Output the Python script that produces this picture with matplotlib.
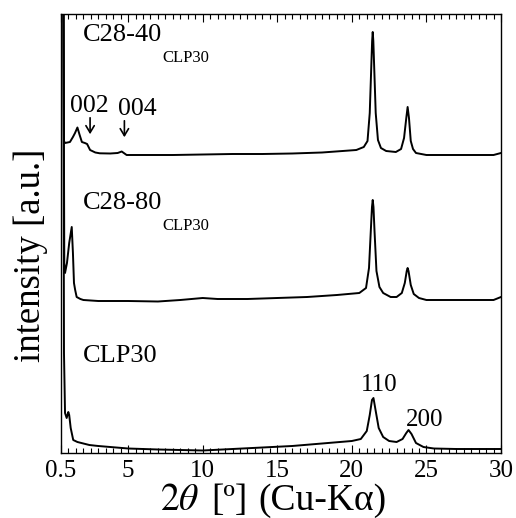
import numpy as np
import matplotlib
matplotlib.use('Agg')
import matplotlib.pyplot as plt

plt.rcParams['font.family'] = ['Liberation Serif', 'DejaVu Serif']
plt.rcParams['mathtext.fontset'] = 'stix'

# XRD data (2theta in degrees, intensity in arbitrary units, already stacked)
tt_c2840 = [0.62, 0.70, 0.77, 1.1, 1.3, 1.44, 1.6, 1.75, 1.9, 2.1, 2.25, 2.45, 2.8, 3.1, 3.8, 4.3,
            4.57, 4.9, 6, 8, 10, 12, 14, 16, 18, 20.3, 20.8, 21.05, 21.2, 21.3, 21.36, 21.4, 21.44,
            21.5, 21.6, 21.75, 21.95, 22.3, 22.95, 23.3, 23.5, 23.65, 23.74, 23.83, 23.95, 24.1,
            24.3, 25, 29.5, 30]
int_c2840 = [700, 312, 310, 311, 316, 320, 325.5, 318, 311, 310, 309, 303, 300.5, 299.7, 299.5, 300,
             301.5, 298, 298, 298, 298.5, 299, 299, 299.5, 300.5, 303, 306, 312, 340, 385, 412, 421, 412,
             385, 340, 313, 305, 302, 301, 304, 315, 335, 346, 335, 312, 304,
             300, 298, 298, 300]

tt_c2880 = [0.62, 0.72, 0.77, 0.9, 1.05, 1.22, 1.3, 1.37, 1.45, 1.55, 1.8, 2.0, 3, 5, 7, 8.5, 10,
            11, 13, 15, 17, 19, 20.5, 20.95, 21.15, 21.28, 21.35, 21.4, 21.45, 21.52, 21.65, 21.85,
            22.1, 22.6, 23.0, 23.35, 23.55, 23.68, 23.74, 23.8, 23.95, 24.15, 24.5, 25, 27, 29.5, 30]
int_c2880 = [700, 190, 180, 190, 210, 226, 200, 170, 163, 156, 154, 153, 152, 152, 151.5, 153, 155,
             154, 154, 155, 156, 158, 160, 165, 185, 225, 246, 253, 246, 222, 182, 166,
             160, 156, 156, 160, 170, 182, 185, 182, 168, 159, 155, 153, 153, 153, 156]

tt_clp30 = [0.62, 0.70, 0.77, 0.88, 0.99, 1.05, 1.15, 1.32, 1.6, 2.0, 2.4, 3.0, 3.8, 5, 7, 10, 12,
            14, 16, 18, 20, 20.6, 21.0, 21.2, 21.35, 21.45, 21.6, 21.8, 22.1, 22.5, 23.0, 23.4,
            23.65, 23.8, 24.0, 24.3, 24.8, 25.5, 27, 30]
int_clp30 = [700, 100, 40, 35, 41, 38, 25, 13, 11, 9.5, 8, 7, 6, 4.5, 3.5, 2.5, 4,
             5.5, 7, 9.5, 12, 14, 22, 38, 53, 55, 42, 25, 16, 12, 11, 14,
             20, 23, 19, 10, 6, 4.5, 4, 4]

fig = plt.figure(figsize=(5.16, 5.18), dpi=100)
ax = fig.add_axes([61/516, 1-453/518, 440/516, 439/518])

for tt, inten in [(tt_c2840, int_c2840), (tt_c2880, int_c2880), (tt_clp30, int_clp30)]:
    ax.plot(tt, inten, color='black', lw=1.4)

ax.set_xlim(0.5, 30)
ax.set_ylim(0, 439)
ax.set_xticks([0.5, 5, 10, 15, 20, 25, 30])
ax.set_xticklabels(['0.5', '5', '10', '15', '20', '25', '30'])
ax.set_xticks(np.arange(1, 30, 0.5), minor=True)
ax.set_yticks([])
ax.tick_params(axis='x', which='both', direction='in', top=True, labelsize=18, pad=5, width=0.8)
ax.tick_params(axis='x', which='major', length=6)
ax.tick_params(axis='x', which='minor', length=3.3)
for sp in ax.spines.values():
    sp.set_linewidth(1.0)

# sample labels
ax.text(1.95, 418, 'C28-40', fontsize=19, va='center', ha='left')
ax.text(7.3, 395, 'CLP30', fontsize=12, va='center', ha='left')
ax.text(1.95, 250, 'C28-80', fontsize=19, va='center', ha='left')
ax.text(7.3, 227, 'CLP30', fontsize=12, va='center', ha='left')
ax.text(1.95, 97, 'CLP30', fontsize=19, va='center', ha='left')

# reflection labels
ax.text(2.4, 347, '002', fontsize=18.5, va='center', ha='center')
ax.text(5.6, 344, '004', fontsize=18.5, va='center', ha='center')
ax.annotate('', xy=(2.45, 316), xytext=(2.45, 338),
            arrowprops=dict(arrowstyle='->,head_length=0.5,head_width=0.3', lw=1.2, color='black'))
ax.annotate('', xy=(4.75, 313), xytext=(4.75, 335),
            arrowprops=dict(arrowstyle='->,head_length=0.5,head_width=0.3', lw=1.2, color='black'))
ax.text(21.8, 68, '110', fontsize=18, va='center', ha='center')
ax.text(24.9, 33, '200', fontsize=18, va='center', ha='center')

fig.text(31/516, 1-255/518, 'intensity [a.u.]', rotation=90, fontsize=26.5, ha='center', va='center')
# x label in three pieces so the spacing follows the original
fig.text(160/516, 1-510/518, r'$2\theta$', fontsize=27, ha='left', va='baseline')
fig.text(211/516, 1-510/518, '[º]', fontsize=27, ha='left', va='baseline')
fig.text(258/516, 1-510/518, '(Cu-Kα)', fontsize=27, ha='left', va='baseline')

fig.savefig('out.png', dpi=100)
